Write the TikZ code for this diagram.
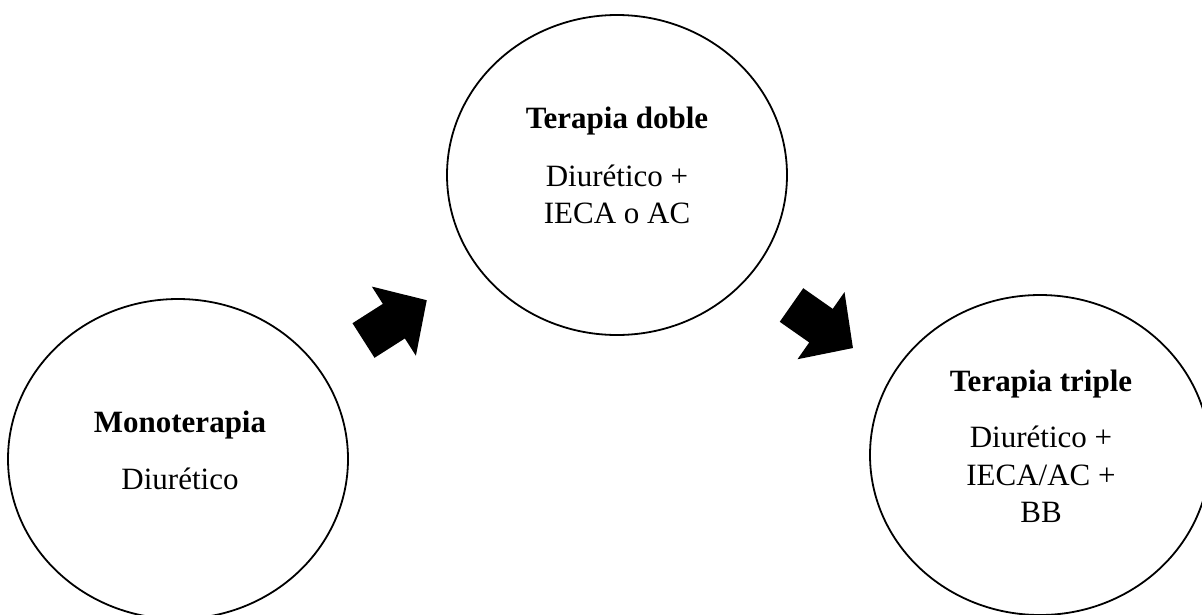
\documentclass[tikz,border=0pt]{standalone}
\usepackage{fontspec}
\setmainfont{Liberation Serif}
\usetikzlibrary{shapes.geometric}
\begin{document}
\begin{tikzpicture}[x=1pt,y=-1pt,
  stage/.style={draw=black,line width=1.8pt,ellipse,inner sep=0pt,minimum width=340pt,minimum height=320pt},
  ttl/.style={anchor=base,inner sep=0pt,font=\fontsize{31}{37}\selectfont\bfseries},
  txt/.style={anchor=base,inner sep=0pt,font=\fontsize{31}{37}\selectfont},
  blockarrow/.pic={\fill[black] (0,-20.5) -- (36,-20.5) -- (36,-41) -- (75,0) -- (36,41) -- (36,20.5) -- (0,20.5) -- cycle;}]
\useasboundingbox (0,0) rectangle (1202,614);
\fill[white] (0,0) rectangle (1202,614);
\begin{scope}
\clip (0,0) rectangle (1202,614);
% stages
\node[stage] (mono) at (178,459) {};
\node[stage] (doble) at (617,175) {};
\node[stage] (triple) at (1040,455) {};
% texts
\node[ttl] (monoT) at (180,432) {Monoterapia};
\node[txt] (monoA) at (180,489) {Diurético};
\node[ttl] (dobleT) at (617,128) {Terapia doble};
\node[txt] (dobleA) at (617,186) {Diurético +};
\node[txt] (dobleB) at (617,223) {IECA o AC};
\node[ttl] (tripleT) at (1041,391) {Terapia triple};
\node[txt] (tripleA) at (1041,447) {Diurético +};
\node[txt] (tripleB) at (1041,485) {IECA/AC +};
\node[txt] (tripleC) at (1041,522) {BB};
% block arrows
\pic[rotate=32.5] at (363.5,340.5) {blockarrow};
\pic[rotate=-35] at (791.5,305) {blockarrow};
\end{scope}
\end{tikzpicture}
\end{document}
